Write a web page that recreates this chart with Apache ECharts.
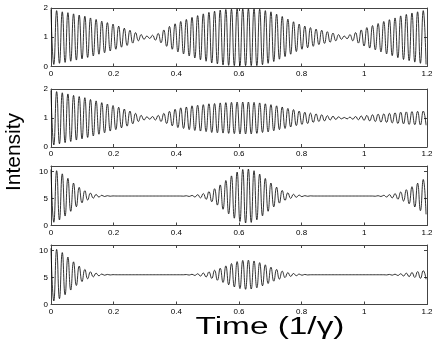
<!DOCTYPE html>
<html>
<head>
<meta charset="utf-8">
<script src="https://cdn.jsdelivr.net/npm/echarts@6/dist/echarts.min.js"></script>
<style>
  html, body { margin: 0; background: #fff; }
  #chart { width: 436px; height: 343px; }
</style>
</head>
<body>
<div id="chart"></div>
<script>
// one value per half period of the fast oscillation: peak, trough, peak, ...
var halfPeriod = 0.009
var xTicks = [0, 0.2, 0.4, 0.6, 0.8, 1, 1.2]
var yTicksTop = [0, 1, 2]
var yTicksBottom = [0, 5, 10]

var panel1 = [
  1.95, 0.07, 1.91, 0.11, 1.87, 0.14, 1.84, 0.18, 1.80, 0.22,
  1.76, 0.26, 1.72, 0.31, 1.66, 0.36, 1.61, 0.42, 1.55, 0.47,
  1.50, 0.53, 1.45, 0.59, 1.38, 0.66, 1.31, 0.72, 1.24, 0.80,
  1.16, 0.88, 1.09, 0.93, 1.04, 0.96, 1.07, 0.90, 1.13, 0.81,
  1.25, 0.69, 1.37, 0.59, 1.46, 0.50, 1.54, 0.43, 1.61, 0.36,
  1.68, 0.29, 1.74, 0.23, 1.80, 0.18, 1.85, 0.12, 1.89, 0.09,
  1.93, 0.05, 1.95, 0.04, 1.96, 0.03, 1.97, 0.03, 1.97, 0.03,
  1.97, 0.03, 1.97, 0.03, 1.96, 0.06, 1.91, 0.11, 1.87, 0.17,
  1.79, 0.25, 1.71, 0.34, 1.62, 0.42, 1.53, 0.51, 1.45, 0.59,
  1.38, 0.64, 1.33, 0.69, 1.28, 0.75, 1.24, 0.79, 1.19, 0.83,
  1.14, 0.88, 1.09, 0.93, 1.04, 0.95, 1.09, 0.88, 1.16, 0.80,
  1.25, 0.70, 1.33, 0.63, 1.40, 0.57, 1.47, 0.50, 1.54, 0.43,
  1.60, 0.37, 1.66, 0.30, 1.73, 0.24, 1.78, 0.20, 1.83, 0.15,
  1.87, 0.11, 1.91, 0.07
]
var panel2 = [
  1.95, 0.07, 1.91, 0.11, 1.87, 0.15, 1.83, 0.19, 1.78, 0.24,
  1.74, 0.28, 1.70, 0.33, 1.64, 0.38, 1.59, 0.44, 1.53, 0.49,
  1.48, 0.55, 1.43, 0.60, 1.37, 0.66, 1.31, 0.72, 1.24, 0.80,
  1.16, 0.88, 1.09, 0.93, 1.04, 0.96, 1.05, 0.93, 1.09, 0.88,
  1.16, 0.81, 1.23, 0.73, 1.30, 0.67, 1.35, 0.64, 1.38, 0.60,
  1.42, 0.57, 1.44, 0.55, 1.46, 0.53, 1.49, 0.50, 1.50, 0.49,
  1.52, 0.48, 1.53, 0.47, 1.54, 0.46, 1.55, 0.45, 1.55, 0.45,
  1.55, 0.45, 1.54, 0.47, 1.52, 0.50, 1.49, 0.52, 1.46, 0.56,
  1.42, 0.60, 1.38, 0.64, 1.33, 0.69, 1.29, 0.74, 1.24, 0.78,
  1.20, 0.81, 1.17, 0.85, 1.14, 0.88, 1.11, 0.90, 1.08, 0.93,
  1.06, 0.95, 1.04, 0.97, 1.02, 0.97, 1.03, 0.96, 1.05, 0.94,
  1.07, 0.92, 1.09, 0.90, 1.11, 0.88, 1.13, 0.86, 1.14, 0.85,
  1.16, 0.83, 1.18, 0.81, 1.20, 0.80, 1.21, 0.78, 1.22, 0.77,
  1.23, 0.76, 1.24, 0.75
]
var panel3 = [
  10.35, 0.60, 10.13, 1.02, 9.55, 1.75, 8.72, 2.62, 7.84, 3.47,
  7.05, 4.19, 6.43, 4.71, 5.99, 5.06, 5.73, 5.26, 5.58, 5.36,
  5.51, 5.41, 5.47, 5.45, 5.45, 5.45, 5.45, 5.45, 5.45, 5.45,
  5.45, 5.45, 5.45, 5.45, 5.45, 5.45, 5.45, 5.45, 5.45, 5.45,
  5.45, 5.45, 5.45, 5.45, 5.45, 5.45, 5.45, 5.42, 5.50, 5.37,
  5.56, 5.28, 5.69, 5.11, 5.91, 4.83, 6.27, 4.39, 6.80, 3.77,
  7.50, 3.00, 8.32, 2.15, 9.17, 1.35, 9.89, 0.74, 10.35, 0.46,
  10.43, 0.57, 10.13, 1.05, 9.51, 1.78, 8.70, 2.63, 7.85, 3.45,
  7.09, 4.14, 6.48, 4.65, 6.05, 5.01, 5.77, 5.22, 5.61, 5.34,
  5.52, 5.40, 5.48, 5.45, 5.45, 5.45, 5.45, 5.45, 5.45, 5.45,
  5.45, 5.45, 5.45, 5.45, 5.45, 5.45, 5.45, 5.45, 5.45, 5.45,
  5.45, 5.45, 5.45, 5.45, 5.45, 5.41, 5.51, 5.36, 5.58, 5.27,
  5.70, 5.11, 5.90, 4.87, 6.19, 4.51, 6.62, 4.02, 7.17, 3.42,
  7.82, 2.74, 8.51, 2.06
]
var panel4 = [
  10.40, 0.65, 10.18, 1.07, 9.60, 1.80, 8.77, 2.67, 7.89, 3.52,
  7.10, 4.24, 6.48, 4.76, 6.04, 5.11, 5.78, 5.31, 5.63, 5.41,
  5.56, 5.46, 5.52, 5.50, 5.50, 5.50, 5.50, 5.50, 5.50, 5.50,
  5.50, 5.50, 5.50, 5.50, 5.50, 5.50, 5.50, 5.50, 5.50, 5.50,
  5.50, 5.50, 5.50, 5.50, 5.50, 5.50, 5.50, 5.50, 5.54, 5.44,
  5.59, 5.37, 5.68, 5.26, 5.82, 5.08, 6.03, 4.83, 6.33, 4.48,
  6.71, 4.08, 7.14, 3.64, 7.57, 3.24, 7.93, 2.94, 8.15, 2.81,
  8.19, 2.86, 8.05, 3.09, 7.74, 3.45, 7.34, 3.88, 6.90, 4.31,
  6.49, 4.69, 6.16, 4.98, 5.90, 5.19, 5.73, 5.33, 5.62, 5.41,
  5.56, 5.46, 5.50, 5.50, 5.50, 5.50, 5.50, 5.50, 5.50, 5.50,
  5.50, 5.50, 5.50, 5.50, 5.50, 5.50, 5.50, 5.50, 5.50, 5.50,
  5.50, 5.50, 5.50, 5.50, 5.50, 5.50, 5.50, 5.50, 5.50, 5.46,
  5.56, 5.42, 5.61, 5.36, 5.68, 5.27, 5.79, 5.15, 5.92, 5.00,
  6.08, 4.84, 6.25, 4.67
]

var panels = [
  { data: panel1, yTicks: yTicksTop, yMax: 2, top: 8, height: 58.5 },
  { data: panel2, yTicks: yTicksTop, yMax: 2, top: 89, height: 58 },
  { data: panel3, yTicks: yTicksBottom, yMax: 11, top: 166, height: 59.5 },
  { data: panel4, yTicks: yTicksBottom, yMax: 11, top: 245, height: 59.5 }
]

var font = 'Liberation Sans'
var boxColor = '#444'

function xAxisOption (k, position, labels) {
  return {
    type: 'value',
    gridIndex: k,
    position: position,
    min: xTicks[0],
    max: xTicks[xTicks.length - 1],
    interval: xTicks[1] - xTicks[0],
    axisLine: { onZero: false, lineStyle: { color: boxColor, width: 1 } },
    axisTick: { inside: true, length: 3, lineStyle: { color: boxColor } },
    axisLabel: { show: labels, margin: 3, fontSize: 8, fontFamily: font, color: '#000' },
    splitLine: { show: false }
  }
}

function yAxisOption (k, position, labels, p) {
  return {
    type: 'value',
    gridIndex: k,
    position: position,
    min: 0,
    max: p.yMax,
    interval: p.yTicks[1] - p.yTicks[0],
    axisLine: { onZero: false, lineStyle: { color: boxColor, width: 1 } },
    axisTick: { inside: true, length: 3, lineStyle: { color: boxColor } },
    axisLabel: {
      show: labels,
      margin: 3,
      fontSize: 8,
      fontFamily: font,
      color: '#000',
      formatter: function (v) {
        return p.yTicks.indexOf(v) >= 0 ? String(v) : ''
      }
    },
    splitLine: { show: false }
  }
}

var grid = []
var xAxis = []
var yAxis = []
var series = []
panels.forEach(function (p, k) {
  grid.push({ left: 51, right: 9, top: p.top, height: p.height })
  // bottom and left carry the labels, top and right only close the box
  xAxis.push(xAxisOption(k, 'bottom', true))
  xAxis.push(xAxisOption(k, 'top', false))
  yAxis.push(yAxisOption(k, 'left', true, p))
  yAxis.push(yAxisOption(k, 'right', false, p))
  series.push({
    type: 'line',
    xAxisIndex: 2 * k,
    yAxisIndex: 2 * k,
    data: p.data.map(function (v, i) { return [i * halfPeriod, v] }),
    symbol: 'none',
    smooth: true,
    silent: true,
    lineStyle: { color: '#000', width: 0.8 }
  })
})

var chart = echarts.init(document.getElementById('chart'))
chart.setOption({
  animation: false,
  backgroundColor: '#fff',
  grid: grid,
  xAxis: xAxis,
  yAxis: yAxis,
  series: series,
  graphic: [{
    type: 'text',
    x: 14.5,
    y: 152,
    rotation: Math.PI / 2,
    style: {
      text: 'Intensity',
      fontSize: 21,
      fontFamily: font,
      fill: '#000',
      align: 'center',
      verticalAlign: 'middle'
    }
  }, {
    // the x title in the picture is drawn wider than the font
    type: 'text',
    x: 270,
    y: 328,
    scaleX: 1.45,
    style: {
      text: 'Time (1/\u03b3)',
      fontSize: 23,
      fontFamily: font,
      fill: '#000',
      align: 'center',
      verticalAlign: 'middle'
    }
  }]
})
window.addEventListener('resize', function () {
  chart.resize()
})
</script>
</body>
</html>
